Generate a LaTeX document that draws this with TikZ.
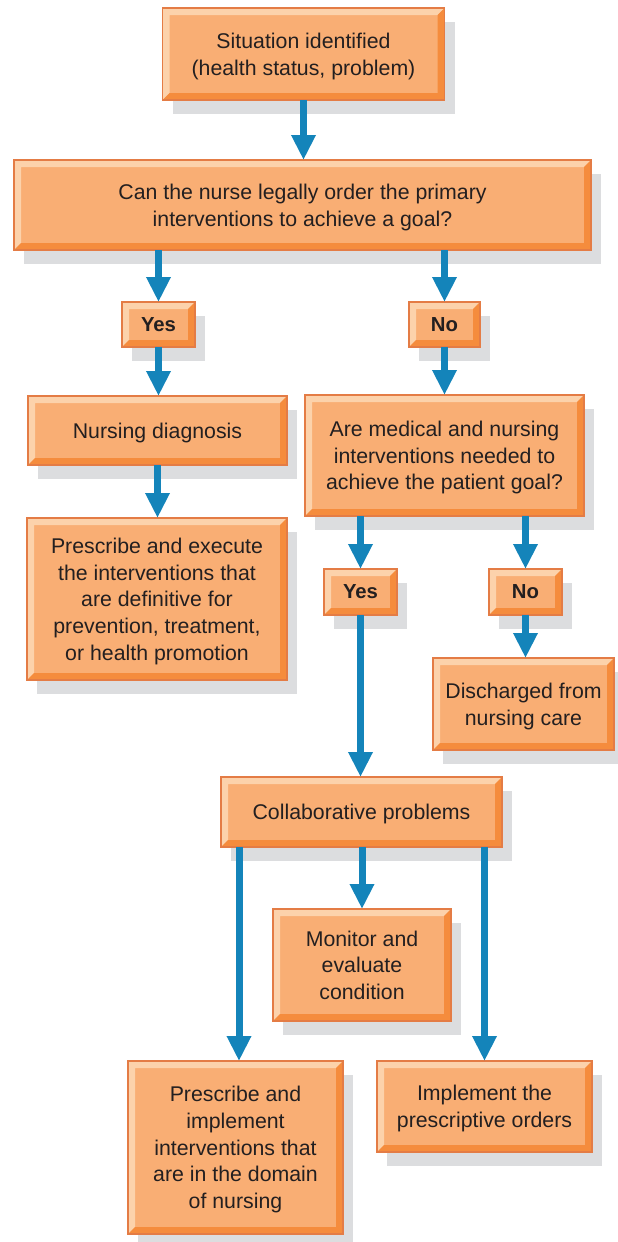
\documentclass[tikz,border=0pt]{standalone}
\usepackage{fontspec}
\setmainfont{Liberation Sans}
\usetikzlibrary{arrows.meta,shadows}

\definecolor{boxfill}{HTML}{F9AE74}
\definecolor{boxlight}{HTML}{FCD2AB}
\definecolor{boxdark}{HTML}{F58C3D}
\definecolor{boxedge}{HTML}{E47C45}
\definecolor{shade}{HTML}{DCDDDF}
\definecolor{flow}{HTML}{1484BA}
\definecolor{ink}{HTML}{231F20}

\tikzset{
  panel/.style={
    draw=boxedge, line width=1.2pt, fill=boxfill, text=ink,
    align=center, inner sep=0pt, outer sep=0pt, text depth=-1.5pt,
    font=\fontsize{21.3}{26.7}\selectfont,
    drop shadow={fill=shade, opacity=1, shadow xshift=10pt, shadow yshift=-14pt},
    path picture={
      % light bevel on the top and left edges
      \fill[boxlight]
        (path picture bounding box.north west)
        -- (path picture bounding box.north east)
        -- ([xshift=-7pt,yshift=-7pt]path picture bounding box.north east)
        -- ([xshift=7pt,yshift=-7pt]path picture bounding box.north west)
        -- ([xshift=7pt,yshift=7pt]path picture bounding box.south west)
        -- (path picture bounding box.south west) -- cycle;
      % dark bevel on the right and bottom edges
      \fill[boxdark]
        (path picture bounding box.south east)
        -- (path picture bounding box.north east)
        -- ([xshift=-7pt,yshift=-7pt]path picture bounding box.north east)
        -- ([xshift=-7pt,yshift=7pt]path picture bounding box.south east)
        -- ([xshift=7pt,yshift=7pt]path picture bounding box.south west)
        -- (path picture bounding box.south west) -- cycle;
    }},
  tag/.style={panel, font=\fontsize{20.3}{26}\selectfont\bfseries},
  flowline/.style={draw=flow, line width=7pt, -{Triangle[width=23pt,length=25pt]}},
}

\begin{document}
\begin{tikzpicture}[x=1pt, y=-1pt]
  \useasboundingbox (0,0) rectangle (618,1242);

  \node[panel, minimum width=282pt, minimum height=92pt] (sit) at (303.5,54)
    {Situation identified\\(health status, problem)};
  \node[panel, minimum width=577pt, minimum height=90pt] (can) at (302.5,205)
    {Can the nurse legally order the primary\\interventions to achieve a goal?};
  \node[tag, minimum width=73pt, minimum height=45pt] (yes1) at (158.5,324.5) {Yes};
  \node[tag, minimum width=71pt, minimum height=45pt] (no1) at (444.5,324.5) {No};
  \node[panel, minimum width=259pt, minimum height=69pt] (nd) at (157.5,430.5)
    {Nursing diagnosis};
  \node[panel, minimum width=260pt, minimum height=162pt] (pe) at (157,599)
    {Prescribe and execute\\the interventions that\\are definitive for\\prevention, treatment,\\or health promotion};
  \node[panel, minimum width=279pt, minimum height=121pt] (am) at (444.5,455.5)
    {Are medical and nursing\\interventions needed to\\achieve the patient goal?};
  \node[tag, minimum width=73pt, minimum height=46pt] (yes2) at (360.5,592) {Yes};
  \node[tag, minimum width=73pt, minimum height=46pt] (no2) at (525.5,592) {No};
  \node[panel, minimum width=181pt, minimum height=92pt] (dis) at (523.5,704)
    {Discharged from\\nursing care};
  \node[panel, minimum width=281pt, minimum height=70pt] (col) at (361.5,812)
    {Collaborative problems};
  \node[panel, text depth=-9pt, minimum width=178pt, minimum height=112pt] (mon) at (362,965)
    {Monitor and\\evaluate\\condition};
  \node[panel, minimum width=215pt, minimum height=173pt] (pi) at (235.5,1147.5)
    {Prescribe and\\implement\\interventions that\\are in the domain\\of nursing};
  \node[panel, minimum width=215pt, minimum height=91pt] (imp) at (484.5,1106.5)
    {Implement the\\prescriptive orders};

  \draw[flowline] (sit.south) -- (sit.south |- can.north);
  \draw[flowline] (can.south -| yes1.north) -- (yes1.north);
  \draw[flowline] (can.south -| no1.north) -- (no1.north);
  \draw[flowline] (yes1.south) -- (yes1.south |- nd.north);
  \draw[flowline] (no1.south) -- (no1.south |- am.north);
  \draw[flowline] (nd.south) -- (nd.south |- pe.north);
  \draw[flowline] (am.south -| yes2.north) -- (yes2.north);
  \draw[flowline] (am.south -| no2.north) -- (no2.north);
  \draw[flowline] (yes2.south) -- (yes2.south |- col.north);
  \draw[flowline] (no2.south) -- (no2.south |- dis.north);
  \draw[flowline] (col.south -| mon.north) -- (mon.north);
  \draw[flowline] ([xshift=3.5pt]col.south -| pi.north) -- ([xshift=3.5pt]pi.north);
  \draw[flowline] (col.south -| imp.north) -- (imp.north);
\end{tikzpicture}
\end{document}
